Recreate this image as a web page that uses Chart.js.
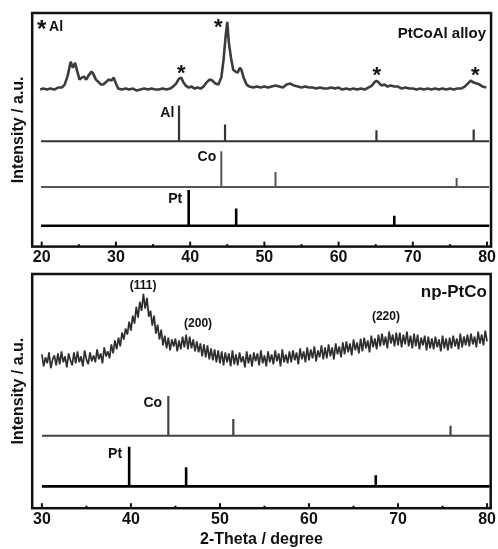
<!DOCTYPE html>
<html>
<head>
<meta charset="utf-8">
<script src="https://cdn.jsdelivr.net/npm/chart.js@4.4.0/dist/chart.umd.min.js"></script>
<style>
body { margin: 0; background: #fff; }
canvas { display: block; }
</style>
</head>
<body>
<canvas id="alloy" width="498" height="272"></canvas>
<canvas id="np" width="498" height="277"></canvas>
<script>
// measured PtCoAl alloy pattern (2-theta, counts above baseline)
const alloyTheta = [19.8, 20.2, 20.7, 21.2, 21.7, 22.2, 22.7, 23.1, 23.5, 23.9, 24.2, 24.5, 24.8, 25.1, 25.4, 25.7, 26.0, 26.3, 26.7, 27.0,
	27.3, 27.6, 28.0, 28.3, 28.6, 29.0, 29.4, 29.7, 30.0, 30.3, 30.8, 31.3, 31.8, 32.3, 32.8, 33.3, 33.8, 34.3, 34.8, 35.3,
	35.8, 36.3, 36.8, 37.3, 37.7, 38.1, 38.5, 38.8, 39.1, 39.4, 39.8, 40.2, 40.6, 41.0, 41.4, 41.8, 42.2, 42.6, 43.0, 43.4,
	43.8, 44.2, 44.5, 44.8, 45.0, 45.2, 45.5, 45.8, 46.1, 46.4, 46.7, 46.9, 47.2, 47.6, 48.0, 48.5, 49.0, 49.5, 50.0, 50.5,
	51.0, 51.5, 52.0, 52.5, 53.0, 53.5, 54.0, 54.5, 55.0, 55.5, 56.0, 56.5, 57.0, 57.5, 58.0, 58.5, 59.0, 59.5, 60.0, 60.5,
	61.0, 61.5, 62.0, 62.5, 63.0, 63.5, 64.0, 64.5, 64.8, 65.1, 65.4, 65.8, 66.2, 66.6, 67.0, 67.5, 68.0, 68.5, 69.0, 69.5,
	70.0, 70.5, 71.0, 71.5, 72.0, 72.5, 73.0, 73.5, 74.0, 74.5, 75.0, 75.5, 76.0, 76.5, 77.0, 77.4, 77.8, 78.2, 78.6, 79.0,
	79.4, 79.9];
const alloyInt = [0, 1, 0, 1, 0, 2, 2, 5, 14, 28, 22, 27, 18, 10, 12, 13, 10, 14, 18, 15,
	10, 8, 5, 5, 7, 10, 9, 12, 6, 1, 0, 1, 0, 1, -1, 0, 1, 0, 1, 0,
	0, 1, 0, 1, 3, 6, 11, 12, 7, 4, 2, 3, 1, 2, 1, 3, 7, 10, 9, 6,
	5, 12, 30, 55, 68, 48, 32, 20, 18, 17, 22, 20, 12, 5, 3, 2, 3, 2, 3, 2,
	3, 4, 3, 2, 5, 6, 4, 3, 2, 3, 2, 2, 1, 2, 1, 1, 2, 1, 2, 0,
	1, 0, 1, 0, 1, 0, 2, 4, 7, 9, 7, 4, 5, 3, 4, 3, 3, 1, 2, 1,
	1, 0, 1, 0, 1, 0, 1, 0, 1, 0, 1, 0, 1, 1, 3, 6, 9, 7, 6, 5,
	3, 2];

// measured np-PtCo pattern, 2-theta from 30 to 80 in 0.2 degree steps
const npStart = 30;
const npStep = 0.2;
const npInt = [
	155, 143, 152, 146, 157, 141, 150, 154, 144, 156,
	145, 158, 147, 153, 142, 156, 149, 144, 157, 146,
	158, 147, 153, 143, 159, 150, 145, 157, 148, 154,
	147, 160, 150, 156, 146, 162, 153, 158, 151, 165,
	156, 169, 160, 172, 163, 177, 170, 181, 175, 188,
	179, 194, 186, 203, 192, 208, 199, 216, 201, 212,
	193, 199, 184, 194, 176, 185, 170, 180, 164, 174,
	161, 172, 159, 170, 163, 171, 158, 169, 160, 173,
	162, 175, 160, 173, 161, 170, 158, 168, 157, 166,
	153, 165, 152, 164, 150, 161, 149, 160, 147, 159,
	146, 158, 144, 157, 147, 156, 143, 159, 145, 155,
	144, 157, 147, 153, 142, 158, 146, 155, 143, 157,
	148, 156, 144, 159, 146, 154, 143, 158, 147, 155,
	145, 159, 148, 156, 143, 160, 147, 155, 146, 158,
	147, 159, 149, 157, 145, 161, 150, 158, 147, 162,
	149, 160, 151, 163, 148, 159, 152, 164, 150, 162,
	151, 165, 153, 162, 150, 166, 155, 163, 152, 167,
	155, 168, 157, 166, 154, 170, 159, 167, 156, 171,
	158, 172, 161, 169, 157, 174, 162, 171, 160, 175,
	163, 176, 164, 173, 161, 178, 166, 175, 163, 177,
	164, 177, 162, 175, 165, 178, 163, 174, 161, 176,
	163, 175, 160, 172, 164, 174, 159, 173, 161, 171,
	160, 173, 162, 170, 158, 174, 161, 171, 159, 172,
	161, 174, 163, 171, 160, 176, 162, 173, 164, 175,
	163, 176, 165, 173, 162, 178, 166, 175, 164, 179,
	168];

// reference patterns (JCPDS positions and relative intensities)
const alPeaks = [38.5, 44.7, 65.1, 78.2];
const alInt = [100, 47, 31, 33];
const coPeaks = [44.2, 51.5, 75.9];
const coInt = [100, 42, 25];
const ptPeaks = [39.8, 46.2, 67.5];
const ptInt = [100, 48, 28];

const FONT = '"Liberation Sans", Arial, sans-serif';

function stickTrace(peaks, ints, from, to, base, scale) {
	const pts = [{ x: from, y: base }];
	peaks.forEach((p, i) => {
		pts.push({ x: p, y: base }, { x: p, y: base + ints[i] * scale }, { x: p, y: base });
	});
	pts.push({ x: to, y: base });
	return pts;
}

function line(data, color, width) {
	return {
		data: data,
		borderColor: color,
		borderWidth: width,
		pointRadius: 0,
		tension: 0,
		borderJoinStyle: "bevel",
		fill: false,
	};
}

// frame around the plot, inward ticks and text labels
const framePlugin = {
	id: "frame",
	afterDraw(chart) {
		const { ctx, chartArea: a, scales } = chart;
		const x = scales.x;
		const y = scales.y;
		ctx.save();
		ctx.strokeStyle = "#111";
		ctx.lineWidth = 2.5;
		ctx.strokeRect(a.left, a.top, a.right - a.left, a.bottom - a.top);
		ctx.lineWidth = 2;
		x.ticks.forEach((t) => {
			const px = x.getPixelForValue(t.value);
			const len = t.value % 10 === 0 ? 5 : 2.5;
			ctx.beginPath();
			ctx.moveTo(px, a.bottom);
			ctx.lineTo(px, a.bottom - len);
			ctx.stroke();
		});
		const notes = chart.options.plugins.frame.notes || [];
		ctx.fillStyle = "#111";
		notes.forEach((n) => {
			ctx.font = "bold " + n.size + "px " + FONT;
			ctx.textAlign = n.align || "center";
			ctx.textBaseline = "alphabetic";
			const m = ctx.measureText(n.star ? n.text : "H");
			const off = (m.actualBoundingBoxAscent - m.actualBoundingBoxDescent) / 2;
			ctx.fillText(n.text, x.getPixelForValue(n.x), y.getPixelForValue(n.y) + off);
		});
		ctx.restore();
	},
};

function xAxis(min, max, title) {
	return {
		type: "linear",
		min: min,
		max: max,
		grid: { display: false, drawTicks: false },
		border: { display: false },
		ticks: {
			stepSize: 5,
			includeBounds: false,
			autoSkip: false,
			maxRotation: 0,
			padding: 2,
			color: "#111",
			font: { family: FONT, size: 16, weight: "bold", lineHeight: 1.15 },
			callback: (v) => (v % 10 === 0 ? v : ""),
		},
		title: {
			display: !!title,
			text: title,
			color: "#111",
			padding: 0,
			font: { family: FONT, size: 16, weight: "bold", lineHeight: 1.15 },
		},
	};
}

function yAxis(max) {
	return {
		min: 0,
		max: max,
		grid: { display: false, drawTicks: false },
		border: { display: false },
		ticks: { display: false },
		title: {
			display: true,
			text: "Intensity / a.u.",
			color: "#111",
			padding: { top: 4, bottom: 4 },
			font: { family: FONT, size: 16, weight: "bold" },
		},
	};
}

// top panel: PtCoAl alloy with Al, Co, Pt references
const alloyData = alloyTheta.map((t, i) => ({ x: t, y: 158 + alloyInt[i] }));
new Chart(document.getElementById("alloy"), {
	type: "line",
	data: {
		datasets: [
			line(alloyData, "#3c3c3c", 2.6),
			line(stickTrace(alPeaks, alInt, 19.9, 80.3, 106, 0.36), "#333", 2.2),
			line(stickTrace(coPeaks, coInt, 19.9, 80.3, 60, 0.36), "#555", 2),
			line(stickTrace(ptPeaks, ptInt, 19.9, 80.3, 21, 0.36), "#000", 2.6),
		],
	},
	options: {
		responsive: false,
		animation: false,
		events: [],
		layout: { padding: { left: 5, right: 6, top: 13, bottom: 3 } },
		scales: { x: xAxis(18.72, 80.54, ""), y: yAxis(235) },
		plugins: {
			legend: { display: false },
			tooltip: { enabled: false },
			frame: {
				notes: [
					{ text: "*", x: 20.0, y: 223, size: 24, star: true },
					{ text: "Al", x: 21.0, y: 222, size: 14, align: "left" },
					{ text: "*", x: 38.8, y: 178, size: 22, star: true },
					{ text: "*", x: 43.79, y: 224, size: 22, star: true },
					{ text: "*", x: 65.15, y: 176, size: 22, star: true },
					{ text: "*", x: 78.42, y: 176, size: 22, star: true },
					{ text: "PtCoAl alloy", x: 79.86, y: 214.5, size: 15, align: "right" },
					{ text: "Al", x: 37.86, y: 135, size: 14, align: "right" },
					{ text: "Co", x: 43.52, y: 91, size: 14, align: "right" },
					{ text: "Pt", x: 38.93, y: 49, size: 14, align: "right" },
				],
			},
		},
	},
	plugins: [framePlugin],
});

// bottom panel: np-PtCo with Co, Pt references
const npData = npInt.map((v, i) => ({ x: npStart + i * npStep, y: v }));
new Chart(document.getElementById("np"), {
	type: "line",
	data: {
		datasets: [
			line(npData, "#2e2e2e", 1.7),
			line(stickTrace(coPeaks, coInt, 30.0, 80.3, 73, 0.4), "#444", 2.2),
			line(stickTrace(ptPeaks, ptInt, 30.0, 80.3, 22, 0.4), "#000", 2.6),
		],
	},
	options: {
		responsive: false,
		animation: false,
		events: [],
		layout: { padding: { left: 5, right: 6, top: 2, bottom: 0 } },
		scales: { x: xAxis(28.91, 80.41, "2-Theta / degree"), y: yAxis(236) },
		plugins: {
			legend: { display: false },
			tooltip: { enabled: false },
			frame: {
				notes: [
					{ text: "(111)", x: 41.37, y: 225, size: 12 },
					{ text: "(200)", x: 47.54, y: 187, size: 12 },
					{ text: "(220)", x: 68.64, y: 194, size: 12 },
					{ text: "np-PtCo", x: 79.98, y: 219, size: 17, align: "right" },
					{ text: "Co", x: 43.5, y: 107, size: 14, align: "right" },
					{ text: "Pt", x: 39.01, y: 56, size: 14, align: "right" },
				],
			},
		},
	},
	plugins: [framePlugin],
});
</script>
</body>
</html>
